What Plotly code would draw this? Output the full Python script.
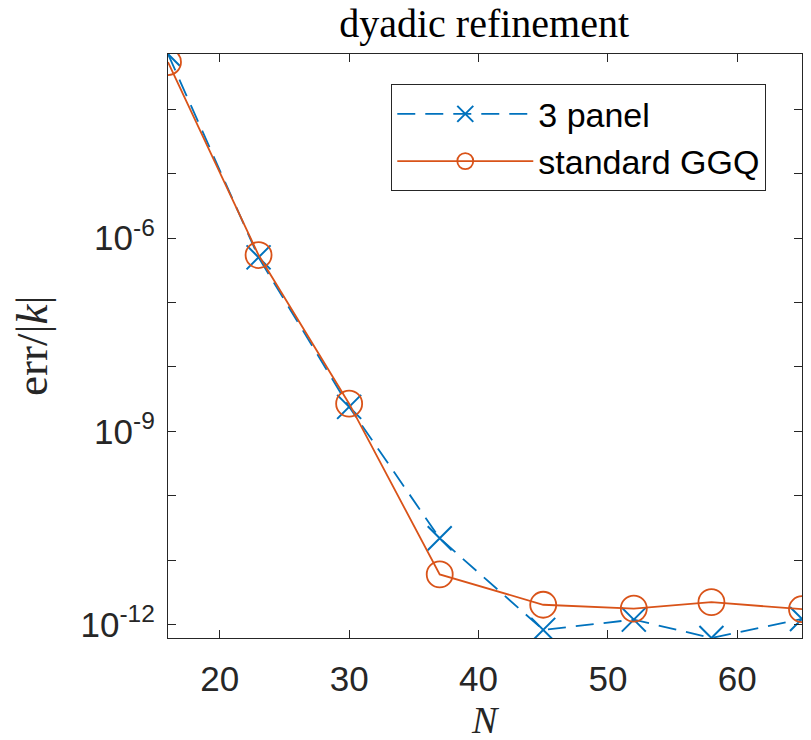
import plotly.graph_objects as go
import numpy as np

# ---- data ----
N = [16, 23, 30, 37, 45, 52, 58, 65]
err_3panel = [7.16e-4, 5.01e-7, 2.40e-9, 2.19e-11, 8.32e-13, 1.20e-12, 6.22e-13, 1.23e-12]
err_ggq = [5.37e-4, 5.44e-7, 2.69e-9, 6.03e-12, 2.04e-12, 1.78e-12, 2.24e-12, 1.74e-12]
series_names = ["3 panel", "standard GGQ"]
x_ticks = [20, 30, 40, 50, 60]
y_label_exps = [-12, -9, -6]

BLUE = "#0072BD"
ORANGE = "#D95319"
AX = "#262626"

fig = go.Figure()
fig.add_trace(go.Scatter(
    x=N, y=err_3panel, name=series_names[0], mode="lines+markers",
    line=dict(color=BLUE, width=1.8, dash="18px,10px"),
    marker=dict(symbol="x-thin-open", size=24, color=BLUE, line=dict(color=BLUE, width=2)),
))
fig.add_trace(go.Scatter(
    x=N, y=err_ggq, name=series_names[1], mode="lines+markers",
    line=dict(color=ORANGE, width=1.8),
    marker=dict(symbol="circle-open", size=26, color=ORANGE, line=dict(color=ORANGE, width=1.8)),
))

all_vals = err_3panel + err_ggq
ylo, yhi = np.log10(min(all_vals)), np.log10(max(all_vals))
decades = list(range(int(np.ceil(ylo)), int(np.floor(yhi)) + 1))
tickvals = [10.0 ** d for d in decades]
ticktext = [("10<sup>%d</sup>" % d) if d in y_label_exps else "" for d in decades]

axis_common = dict(
    showline=True, linecolor=AX, linewidth=1.3, mirror="ticks",
    ticks="inside", ticklen=8, tickwidth=1.3, tickcolor=AX,
    showgrid=False, zeroline=False,
    tickfont=dict(family="Liberation Sans, Arial, sans-serif", size=35, color=AX),
)

fig.update_xaxes(range=[min(N), max(N)], tickvals=x_ticks, ticklabelstandoff=10, **axis_common)
fig.update_yaxes(type="log", range=[ylo, yhi], tickvals=tickvals, ticktext=ticktext,
                 ticklabelstandoff=5, **axis_common)

fig.update_layout(
    width=811, height=740,
    margin=dict(l=168, r=9, t=54, b=102),
    paper_bgcolor="white", plot_bgcolor="white",
    title=dict(text="dyadic refinement", x=0.597, xanchor="center", y=0.969, yanchor="middle",
               font=dict(family="Liberation Serif, Times New Roman, serif", size=40, color="black")),
    showlegend=True,
    legend=dict(x=0.3517, y=0.9486, xanchor="left", yanchor="top",
                bgcolor="white", bordercolor=AX, borderwidth=1.3,
                itemwidth=136,
                font=dict(family="Liberation Sans, Arial, sans-serif", size=34, color="black")),
    annotations=[
        dict(text="err/|<i>k</i>|", xref="paper", yref="paper", x=0, y=0.5,
             xanchor="center", yanchor="middle", xshift=-136, textangle=-90, showarrow=False,
             font=dict(family="Liberation Serif, Times New Roman, serif", size=45, color=AX)),
        dict(text="<i>N</i>", xref="paper", yref="paper", x=0.5, y=0,
             xanchor="center", yanchor="middle", yshift=-82, showarrow=False,
             font=dict(family="Liberation Serif, Times New Roman, serif", size=38, color=AX)),
    ],
)

fig.write_html("out.html", config={"displayModeBar": False},
               post_script="document.body.style.margin='0';")
